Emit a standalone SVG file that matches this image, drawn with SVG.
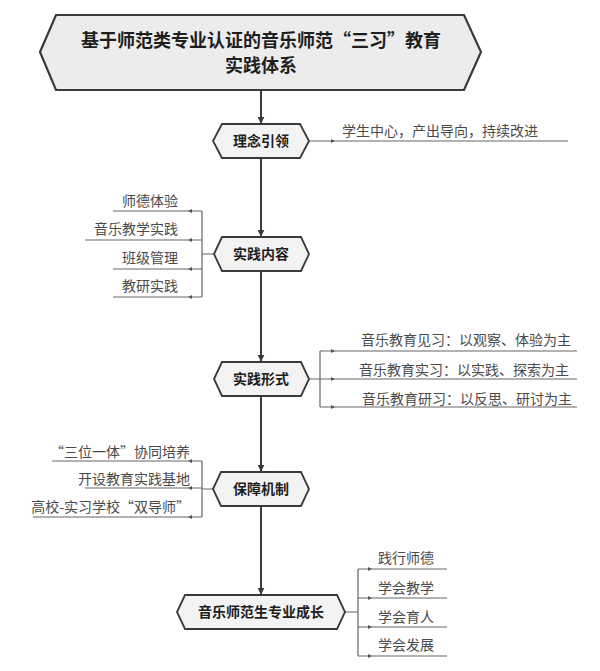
<svg xmlns="http://www.w3.org/2000/svg" width="600" height="671" viewBox="0 0 600 671">
<defs>
<style>
.node{fill:#f3f3f3;stroke:#3a3a3a;stroke-width:1.8}
.title{fill:#ececec;stroke:#3a3a3a;stroke-width:2.2}
.nt{font-family:"Noto Sans CJK SC","Noto Sans",sans-serif;font-weight:bold;fill:#1e1e1e;font-size:14px;text-anchor:middle}
.tt{font-family:"Noto Sans CJK SC","Noto Sans",sans-serif;font-weight:bold;fill:#1e1e1e;font-size:18px;text-anchor:middle}
.bt{font-family:"Noto Sans CJK SC","Noto Sans",sans-serif;fill:#4a4a4a;font-size:14px}
.main{stroke:#3a3a3a;stroke-width:2;fill:none}
.br{stroke:#666;stroke-width:1.2;fill:none}
</style>
<marker id="ah" viewBox="0 0 10 10" refX="9" refY="5" markerWidth="7" markerHeight="7" markerUnits="userSpaceOnUse" orient="auto">
<path d="M0,0 L10,5 L0,10 z" fill="#3a3a3a"/>
</marker>
<marker id="sm" viewBox="0 0 10 10" refX="5" refY="5" markerWidth="4" markerHeight="4" markerUnits="userSpaceOnUse" orient="auto">
<path d="M0,0 L10,5 L0,10 z" fill="#555"/>
</marker>
</defs>

<g id="connectors">
<path class="main" d="M261,90 V123" marker-end="url(#ah)"/>
<path class="main" d="M261,158 V236" marker-end="url(#ah)"/>
<path class="main" d="M261,271 V361" marker-end="url(#ah)"/>
<path class="main" d="M261,396 V471" marker-end="url(#ah)"/>
<path class="main" d="M261,506 V594" marker-end="url(#ah)"/>

<path class="br" d="M309,141 L333,141 L568,141" marker-mid="url(#sm)"/>

<path class="br" d="M214,254 H202 M202,211 V297"/>
<path class="br" d="M202,211 L190,211 L113,211" marker-mid="url(#sm)"/>
<path class="br" d="M202,240 L190,240 L85,240" marker-mid="url(#sm)"/>
<path class="br" d="M202,269 L190,269 L113,269" marker-mid="url(#sm)"/>
<path class="br" d="M202,297 L190,297 L113,297" marker-mid="url(#sm)"/>

<path class="br" d="M309,379 H320 M320,351 V407"/>
<path class="br" d="M320,351 L333,351 L577,351" marker-mid="url(#sm)"/>
<path class="br" d="M320,379 L333,379 L577,379" marker-mid="url(#sm)"/>
<path class="br" d="M320,407 L333,407 L577,407" marker-mid="url(#sm)"/>

<path class="br" d="M213,489 H202 M202,461 V517"/>
<path class="br" d="M202,461 L190,461 L52,461" marker-mid="url(#sm)"/>
<path class="br" d="M202,488 L190,488 L85,488" marker-mid="url(#sm)"/>
<path class="br" d="M202,517 L190,517 L33,517" marker-mid="url(#sm)"/>

<path class="br" d="M345,612 H358 M358,569 V656"/>
<path class="br" d="M358,569 L370,569 L447,569" marker-mid="url(#sm)"/>
<path class="br" d="M358,598 L370,598 L447,598" marker-mid="url(#sm)"/>
<path class="br" d="M358,627 L370,627 L447,627" marker-mid="url(#sm)"/>
<path class="br" d="M358,656 L370,656 L447,656" marker-mid="url(#sm)"/>
</g>

<g id="title">
<polygon class="title" points="40,52 56,15 464,15 481,52 464,90 56,90"/>
<text class="tt" x="261" y="47">基于师范类专业认证的音乐师范“三习”教育</text>
<text class="tt" x="261" y="72">实践体系</text>
</g>

<g id="n1">
<polygon class="node" points="213,141 222,124 300,124 309,141 300,158 222,158"/>
<text class="nt" x="261" y="146">理念引领</text>
</g>
<g id="n1-items">
<text class="bt" x="342" y="136">学生中心，产出导向，持续改进</text>
</g>

<g id="n2">
<polygon class="node" points="214,254 222,237 301,237 309,254 301,271 222,271"/>
<text class="nt" x="261" y="259">实践内容</text>
</g>
<g id="n2-items">
<text class="bt" x="178" y="206" text-anchor="end">师德体验</text>
<text class="bt" x="178" y="234" text-anchor="end">音乐教学实践</text>
<text class="bt" x="178" y="263" text-anchor="end">班级管理</text>
<text class="bt" x="178" y="291" text-anchor="end">教研实践</text>
</g>

<g id="n3">
<polygon class="node" points="214,379 222,362 301,362 309,379 301,396 222,396"/>
<text class="nt" x="261" y="384">实践形式</text>
</g>
<g id="n3-items">
<text class="bt" x="571" y="345" text-anchor="end" font-size="15">音乐教育见习：以观察、体验为主</text>
<text class="bt" x="569" y="375" text-anchor="end" font-size="15">音乐教育实习：以实践、探索为主</text>
<text class="bt" x="572" y="404" text-anchor="end" font-size="15">音乐教育研习：以反思、研讨为主</text>
</g>

<g id="n4">
<polygon class="node" points="213,489 221,472 301,472 309,489 301,506 221,506"/>
<text class="nt" x="261" y="494">保障机制</text>
</g>
<g id="n4-items">
<text class="bt" x="190" y="457" text-anchor="end">“三位一体”协同培养</text>
<text class="bt" x="190" y="484" text-anchor="end" font-size="13">开设教育实践基地</text>
<text class="bt" x="190" y="512" text-anchor="end">高校-实习学校“双导师”</text>
</g>

<g id="n5">
<polygon class="node" points="177,612 185,595 337,595 345,612 337,629 185,629"/>
<text class="nt" x="261" y="617">音乐师范生专业成长</text>
</g>
<g id="n5-items">
<text class="bt" x="378" y="563">践行师德</text>
<text class="bt" x="378" y="593">学会教学</text>
<text class="bt" x="378" y="622">学会育人</text>
<text class="bt" x="378" y="650">学会发展</text>
</g>
</svg>
